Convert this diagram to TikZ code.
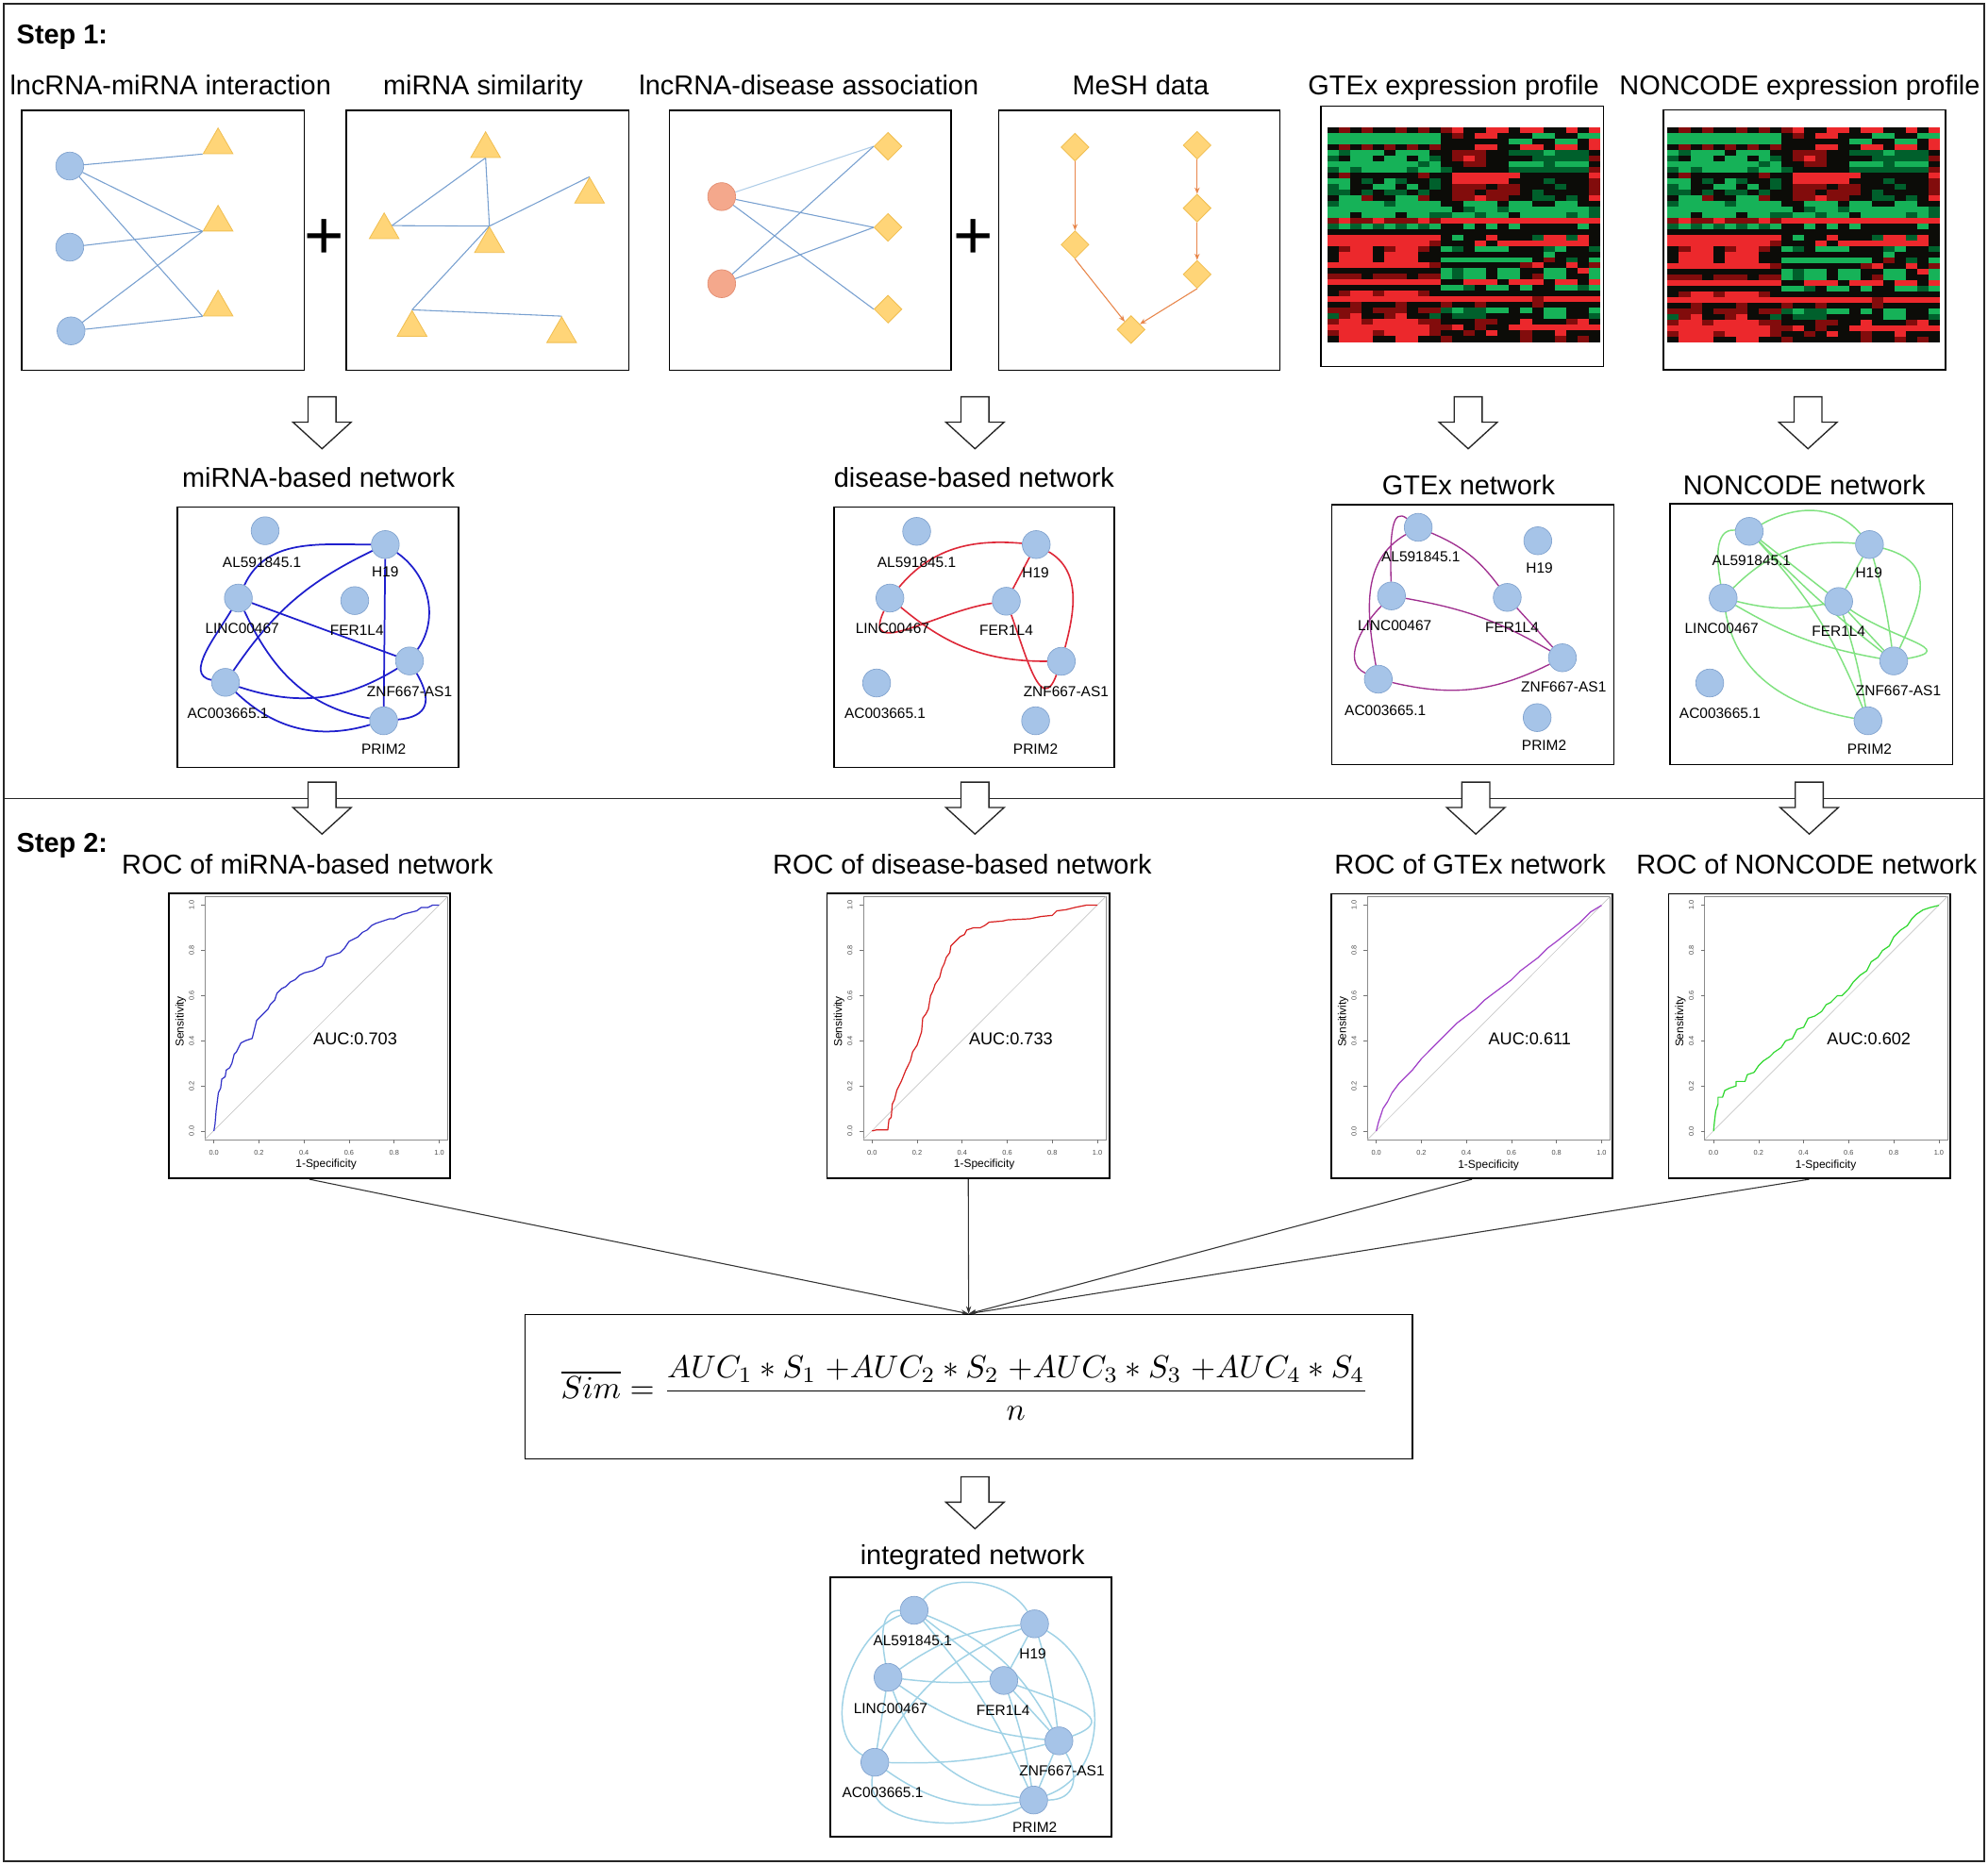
\documentclass[tikz,border=0pt]{standalone}
\usepackage[no-math]{fontspec}
\setmainfont{Liberation Sans}
\usetikzlibrary{shapes.geometric,arrows.meta}
\pgfdeclarelayer{bg}
\pgfsetlayers{bg,main}
\definecolor{nodefill}{RGB}{166,196,232}
\definecolor{nodeline}{RGB}{128,162,206}
\definecolor{trifill}{RGB}{255,213,120}
\definecolor{triline}{RGB}{240,190,80}
\definecolor{salmon}{RGB}{244,168,140}
\definecolor{salmonline}{RGB}{226,140,112}
\definecolor{edgeblue}{RGB}{120,160,208}
\definecolor{edgelight}{RGB}{176,206,232}
\definecolor{meshorange}{RGB}{232,134,74}
\definecolor{netblue}{RGB}{30,30,205}
\definecolor{netred}{RGB}{222,40,56}
\definecolor{netpurple}{RGB}{160,48,144}
\definecolor{netgreen}{RGB}{128,226,128}
\definecolor{netcyan}{RGB}{160,210,230}
\definecolor{rocblue}{RGB}{50,50,200}
\definecolor{rocred}{RGB}{216,32,32}
\definecolor{rocpurple}{RGB}{160,64,200}
\definecolor{rocgreen}{RGB}{48,216,48}
\definecolor{hmK}{RGB}{12,12,8}
\definecolor{hmr}{RGB}{130,12,12}
\definecolor{hmR}{RGB}{236,40,44}
\definecolor{hmg}{RGB}{0,96,44}
\definecolor{hmG}{RGB}{22,178,88}
\newcommand\ttlfont{\fontsize{21.5}{25}\selectfont}
\newcommand\stepfont{\fontsize{21.5}{25}\selectfont\bfseries}
\newcommand\lblfont{\fontsize{11.5}{13}\selectfont}
\newcommand\aucfont{\fontsize{13.5}{15}\selectfont}
\newcommand\axfont{\fontsize{8.9}{10}\selectfont}
\newcommand\tickfont{\fontsize{5.5}{6}\selectfont}
\newcommand\plusfont{\fontsize{54}{60}\selectfont}
\def\hmrows{%
{K,r,K,r,K,K,r,K,r,K,r,R,K,K,R,R,K,R,R,K,K,R,K,R},%
{G,G,G,G,G,G,G,G,G,G,K,r,K,R,R,K,K,K,G,G,K,K,G,G},%
{G,G,G,G,G,G,G,G,G,G,K,K,K,K,K,K,G,G,K,K,G,G,K,R},%
{K,r,K,r,K,r,K,r,K,r,K,K,K,R,R,K,K,R,R,K,R,R,K,R},%
{G,g,G,G,G,K,G,G,G,K,K,r,r,r,K,K,g,g,g,G,g,g,g,K},%
{g,K,G,G,K,G,G,K,G,g,K,r,R,r,K,K,K,K,g,g,g,g,g,r},%
{G,G,G,G,G,G,G,G,g,G,K,K,r,r,K,K,G,G,G,g,G,G,G,K},%
{g,G,g,G,G,G,G,g,G,G,g,K,K,K,K,K,g,g,g,g,g,g,g,r},%
{K,r,K,K,K,K,K,K,r,K,K,R,R,R,R,R,R,K,K,K,K,K,K,R},%
{G,G,K,g,K,G,g,K,K,g,K,R,R,R,R,R,K,K,K,g,K,K,K,r},%
{g,G,K,K,G,G,K,G,K,g,K,r,r,r,K,r,r,K,K,K,g,K,K,r},%
{g,g,K,g,K,g,g,K,g,K,K,r,r,K,r,r,r,K,g,K,K,K,K,r},%
{K,G,G,r,K,K,G,G,r,K,K,r,r,R,r,r,K,K,g,g,K,g,K,R},%
{g,G,G,G,G,g,G,G,G,G,K,K,G,G,G,K,G,G,K,K,G,G,K,K},%
{G,G,G,G,G,G,G,G,G,G,G,K,g,G,G,g,G,G,G,G,G,G,G,g},%
{G,G,K,G,G,G,K,G,G,g,g,G,G,g,G,G,K,G,G,G,G,g,G,g},%
{r,R,r,r,R,r,r,r,R,r,R,R,R,R,R,R,R,R,R,R,R,R,R,R},%
{g,G,g,G,g,G,g,G,g,G,K,K,G,K,G,K,G,K,K,K,K,K,G,K},%
{K,K,K,K,K,K,K,K,K,K,K,K,K,K,K,K,K,K,K,K,K,K,K,K},%
{R,R,R,R,R,R,R,R,R,R,K,G,K,K,R,K,K,K,g,R,R,g,R,K},%
{R,R,R,R,R,R,R,R,R,r,K,K,K,R,K,R,R,R,R,R,R,R,R,K},%
{K,r,R,R,K,r,R,R,r,K,G,g,K,G,G,G,K,K,K,g,G,K,K,g},%
{K,R,R,R,K,R,R,R,K,K,K,K,K,K,K,K,K,K,K,G,K,K,K,K},%
{K,R,R,R,K,R,R,R,K,K,G,G,G,G,G,G,G,G,K,r,K,g,K,G},%
{R,R,R,R,R,R,R,R,R,r,K,K,K,K,K,K,K,r,R,K,K,R,K,r},%
{K,K,K,K,K,K,K,K,K,K,G,g,G,G,K,G,G,K,K,G,G,K,R,G},%
{r,r,r,K,r,r,r,K,r,r,G,g,G,G,K,G,G,K,r,G,G,K,K,G},%
{R,R,R,R,R,R,R,R,R,R,K,K,R,R,R,K,R,R,R,K,R,R,K,R},%
{K,K,K,K,K,K,K,K,K,K,G,G,g,K,G,G,K,G,K,K,G,G,g,G},%
{K,r,R,R,r,R,R,R,r,K,K,K,K,K,K,K,K,K,K,K,K,K,K,K},%
{R,R,R,R,R,R,R,R,R,R,R,R,R,R,R,R,R,R,r,R,R,R,R,R},%
{K,K,r,K,K,K,r,K,K,K,r,K,K,r,K,K,K,K,r,K,K,K,K,K},%
{r,r,r,K,r,r,r,K,r,r,g,G,g,g,G,G,K,G,K,G,G,K,K,G},%
{g,r,R,K,K,r,R,K,K,g,K,g,g,g,K,K,K,K,K,G,G,K,K,g},%
{r,R,R,r,R,R,R,R,r,r,K,K,K,r,r,K,K,R,K,K,K,r,R,K},%
{R,R,R,R,R,R,R,R,R,r,r,R,K,r,K,K,R,R,R,R,R,R,R,R},%
{r,R,R,R,r,R,R,R,R,r,K,K,r,K,R,K,K,r,K,K,R,K,K,K},%
{K,R,R,R,K,K,R,R,K,K,r,K,K,K,K,K,K,r,K,K,r,K,r,K}%
}
\newcommand\framenode[5]{\node[framebox, minimum width={#4-#2}, minimum height={#5-#3}] (#1) at ({(#2+#4)/2},{(#3+#5)/2}) {};}
\newcommand\heatmap[4]{%
  \fill[hmK] (#1,#2) rectangle ++(#3,#4);
  \foreach \rowdata [count=\i from 0] in \hmrows {
    \foreach \c [count=\j from 0] in \rowdata {
      \fill[fill=hm\c] ({#1+\j*#3/24},{#2+\i*#4/38}) rectangle ++({#3/24+0.25},{#4/38+0.25});
    }
  }
}
\newcommand\rocplot[9]{%
  \framenode{#1}{#2}{#3}{#4}{#5}
  \begin{scope}[shift={(#2,#3)}]
    \draw[black!45, line width=0.5pt] (28.5,2.2) rectangle (220,194);
    \foreach \v/\t in {0/0.0,0.2/0.2,0.4/0.4,0.6/0.6,0.8/0.8,1/1.0} {
      \draw[black!55, line width=0.4pt] ({35.5+177.7*\v},194) -- ++(0,3);
      \node[font=\tickfont, text=black!70, inner sep=0] at ({35.5+177.7*\v},204.5) {\t};
      \draw[black!55, line width=0.4pt] (28.5,{187.3-178.1*\v}) -- ++(-3,0);
      \node[font=\tickfont, text=black!70, inner sep=0, rotate=90] at (18,{187.3-178.1*\v}) {\t};
    }
    \node[font=\axfont, inner sep=0] (#1-xl) at (124,214) {1-Specificity};
    \node[font=\axfont, inner sep=0, rotate=90] (#1-yl) at (9.4,101) {Sensitivity};
    \draw[black!22, line width=0.5pt] (28.5,194) -- (220,2.2);
    \node[font=\aucfont, inner sep=0] (#1-auc) at (#6,114.8) {#7};
    \begin{scope}[shift={(35.5,187.3)}, x={(177.7pt,0pt)}, y={(0pt,178.1pt)}]
      \draw[#8, line width=0.9pt, line join=round] plot coordinates {#9};
    \end{scope}
  \end{scope}
}
\begin{document}
\begin{tikzpicture}[x=1pt,y=-1pt,
  framebox/.style={draw=black, line width=1.2pt, inner sep=0},
  title/.style={font=\ttlfont, anchor=base, inner sep=0},
  steplabel/.style={font=\stepfont, anchor=base west, inner sep=0},
  netnode/.style={circle, fill=nodefill, draw=nodeline, line width=0.5pt, minimum size=22pt, inner sep=0},
  netlabel/.style={font=\lblfont, inner sep=0},
  tri/.style={regular polygon, regular polygon sides=3, minimum size=27pt, inner sep=0, fill=trifill, draw=triline, line width=0.6pt},
  dia/.style={diamond, aspect=1, minimum size=22pt, inner sep=0, fill=trifill, draw=triline, line width=0.6pt},
  lnc/.style={circle, minimum size=22pt, inner sep=0, fill=nodefill, draw=nodeline, line width=0.5pt},
  dis/.style={lnc, fill=salmon, draw=salmonline},
  simedge/.style={draw=edgeblue, line width=0.8pt},
  meshedge/.style={draw=meshorange, line width=0.8pt, -{Stealth[length=5pt,width=4pt]}},
  mirnaedge/.style={draw=netblue, line width=1.3pt},
  disedge/.style={draw=netred, line width=1.2pt},
  gtexedge/.style={draw=netpurple, line width=1pt},
  ncedge/.style={draw=netgreen, line width=1.1pt},
  intedge/.style={draw=netcyan, line width=1.1pt},
  feed/.style={draw=black!80, line width=0.8pt, -{Stealth[length=6pt,width=4pt]}},
  plussign/.style={font=\plusfont, inner sep=0},
  hollow/.pic={\draw[black!85, line width=1pt, fill=white] (-11,0) -- (11,0) -- (11,20) -- (23,20) -- (0,41) -- (-23,20) -- (-11,20) -- cycle;}
]
\useasboundingbox (0,0) rectangle (1568,1471);
\begin{pgfonlayer}{bg}
\fill[white] (0,0) rectangle (1568,1471);
\end{pgfonlayer}
\draw[black!85, line width=1.3pt] (3,3) rectangle (1565,1468);
\draw[black!85, line width=1.3pt] (3,630) -- (1565,630);

% ---------- Step 1 ----------
\node[steplabel] (step1) at (13,34.5) {Step 1:};
\node[title] (t1) at (134.5,74.5) {lncRNA-miRNA interaction};
\node[title] (t2) at (381,74.5) {miRNA similarity};
\node[title] (t3) at (638,74.5) {lncRNA-disease association};
\node[title] (t4) at (899.6,74.5) {MeSH data};
\node[title] (t5) at (1146.5,74.5) {GTEx expression profile};
\node[title] (t6) at (1419.5,74.5) {NONCODE expression profile};

\framenode{b1}{17}{87}{240}{292}
\framenode{b2}{273}{87}{496}{292}
\framenode{b3}{528}{87}{750}{292}
\framenode{b4}{787.6}{87}{1009.4}{292}
\framenode{b5}{1041.7}{83.6}{1264.7}{289.1}
\framenode{b6}{1311.9}{86.8}{1534.5}{291.5}
\node[plussign] (plus1) at (256,189) {+};
\node[plussign] (plus2) at (767.5,189) {+};

% box 1: lncRNA-miRNA interaction
\node[lnc] (c1) at (55,131) {};
\node[lnc] (c2) at (55,195) {};
\node[lnc] (c3) at (56,261) {};
\node[tri] (ta1) at (172,114.5) {};
\node[tri] (ta2) at (172,175.5) {};
\node[tri] (ta3) at (172,242.5) {};
\begin{pgfonlayer}{bg}
\draw[simedge] (c1) -- (ta1.corner 2);
\draw[simedge] (c1) -- (ta2.corner 2);
\draw[simedge] (c1) -- (ta3.corner 2);
\draw[simedge] (c2) -- (ta2.corner 2);
\draw[simedge] (c3) -- (ta2.corner 2);
\draw[simedge] (c3) -- (ta3.corner 2);
\end{pgfonlayer}

% box 2: miRNA similarity
\node[tri] (sa) at (383,117.5) {};
\node[tri] (sb) at (465,153.5) {};
\node[tri] (sc) at (303,181.5) {};
\node[tri] (sd) at (386,192.5) {};
\node[tri] (se) at (325,258.5) {};
\node[tri] (sf) at (443,263.5) {};
\begin{pgfonlayer}{bg}
\draw[simedge] (sa.side 2) -- (sc.side 3);
\draw[simedge] (sa.side 2) -- (sd.corner 1);
\draw[simedge] (sc.side 3) -- (sd.corner 1);
\draw[simedge] (sd.corner 1) -- (sb.corner 1);
\draw[simedge] (sd.corner 1) -- (se.corner 1);
\draw[simedge] (se.corner 1) -- (sf.corner 1);
\end{pgfonlayer}

% box 3: lncRNA-disease association
\node[dis] (e1) at (569.2,155.1) {};
\node[dis] (e2) at (569.2,223.8) {};
\node[dia] (d1) at (700.4,115.4) {};
\node[dia] (d2) at (700.4,179.4) {};
\node[dia] (d3) at (700.4,243.9) {};
\begin{pgfonlayer}{bg}
\draw[simedge, draw=edgelight] (e1) -- (d1.west);
\draw[simedge] (e1) -- (d2.west);
\draw[simedge] (e1) -- (d3.west);
\draw[simedge] (e2) -- (d1.west);
\draw[simedge] (e2) -- (d2.west);
\end{pgfonlayer}

% box 4: MeSH data
\node[dia] (m1) at (847.9,116.1) {};
\node[dia] (m2) at (944.2,114.6) {};
\node[dia] (m3) at (944.2,164.2) {};
\node[dia] (m4) at (847.9,193.0) {};
\node[dia] (m5) at (944.2,216.4) {};
\node[dia] (m6) at (892.1,260.0) {};
\draw[meshedge] (m1) -- (m4);
\draw[meshedge] (m2) -- (m3);
\draw[meshedge] (m3) -- (m5);
\draw[meshedge] (m4.south) -- (m6);
\draw[meshedge] (m5.south) -- (m6);

% heatmaps
\heatmap{1047.3}{100.2}{214.5}{169.5}
\heatmap{1315.3}{100.2}{214.8}{169.8}

% hollow arrows row A
\pic at (254,313) {hollow};
\pic at (769,313) {hollow};
\pic at (1158,313) {hollow};
\pic at (1426,313) {hollow};

% network titles
\node[title] (nt1) at (251.2,384.5) {miRNA-based network};
\node[title] (nt2) at (768.3,384.5) {disease-based network};
\node[title] (nt3) at (1158.3,390) {GTEx network};
\node[title] (nt4) at (1423,390) {NONCODE network};

\framenode{n1}{140.1}{400.1}{361.7}{605.3}
\framenode{n2}{658}{400}{878.8}{605.3}
\framenode{n3}{1050.4}{398.1}{1273}{603.3}
\framenode{n4}{1317}{397.6}{1540}{603.3}

% miRNA-based network
\node[netnode] (mal) at (209.1,418.7) {};
\node[netnode] (mh) at (303.9,429.6) {};
\node[netnode] (mli) at (188,471.8) {};
\node[netnode] (mfe) at (279.8,473.8) {};
\node[netnode] (mzn) at (323,521.4) {};
\node[netnode] (mac) at (177.8,538.3) {};
\node[netnode] (mpr) at (302.6,568.6) {};
\node[netlabel] (mal-t) at (206.6,443.5) {AL591845.1};
\node[netlabel] (mh-t) at (303.9,451.4) {H19};
\node[netlabel] (mli-t) at (191,496.1) {LINC00467};
\node[netlabel] (mfe-t) at (281.5,497.4) {FER1L4};
\node[netlabel] (mzn-t) at (323,545.7) {ZNF667-AS1};
\node[netlabel] (mac-t) at (179.8,563.1) {AC003665.1};
\node[netlabel] (mpr-t) at (302.6,590.9) {PRIM2};
\begin{pgfonlayer}{bg}
\draw[mirnaedge] (mli) to[out=65,in=180] (mh);
\draw[mirnaedge] (mli) -- (mzn);
\draw[mirnaedge] (mli) to[out=-65,in=170] (mpr);
\draw[mirnaedge] (mli) to[out=-120,in=170] (mac);
\draw[mirnaedge] (mac) to[bend left=15] (mh);
\draw[mirnaedge] (mac) to[bend right=25] (mzn);
\draw[mirnaedge] (mac) to[bend right=30] (mpr);
\draw[mirnaedge] (mh) -- (mpr);
\draw[mirnaedge] (mh) to[out=-35,in=55] (mzn);
\draw[mirnaedge] (mzn) to[out=-60,in=5,looseness=1.6] (mpr);
\end{pgfonlayer}

% disease-based network
\node[netnode] (dal) at (723,419.2) {};
\node[netnode] (dh) at (817.3,429.6) {};
\node[netnode] (dli) at (701.9,471.8) {};
\node[netnode] (dfe) at (793.7,474.3) {};
\node[netnode] (dzn) at (837.1,521.7) {};
\node[netnode] (dac) at (691.4,538.8) {};
\node[netnode] (dpr) at (816.8,568.6) {};
\node[netlabel] (dal-t) at (723,443.5) {AL591845.1};
\node[netlabel] (dh-t) at (816.8,452) {H19};
\node[netlabel] (dli-t) at (703.9,496.1) {LINC00467};
\node[netlabel] (dfe-t) at (793.7,497.4) {FER1L4};
\node[netlabel] (dzn-t) at (840.8,545.7) {ZNF667-AS1};
\node[netlabel] (dac-t) at (698.1,563.1) {AC003665.1};
\node[netlabel] (dpr-t) at (816.8,590.9) {PRIM2};
\begin{pgfonlayer}{bg}
\draw[disedge] (dli) to[out=50,in=175] (dh);
\draw[disedge] (dli) to[out=-115,in=188,looseness=1.3] (dfe);
\draw[disedge] (dli) to[out=-40,in=180] (dzn);
\draw[disedge] (dfe) -- (dh);
\draw[disedge] (dh) to[out=-30,in=75] (dzn);
\draw[disedge] (dfe) to[out=-70,in=-110,looseness=1.5] (dzn);
\end{pgfonlayer}

% GTEx network
\node[netnode] (gal) at (1118.6,416) {};
\node[netnode] (gh) at (1212.9,426.6) {};
\node[netnode] (gli) at (1097.5,470.1) {};
\node[netnode] (gfe) at (1188.8,471.3) {};
\node[netnode] (gzn) at (1232.3,518.9) {};
\node[netnode] (gac) at (1087.1,535.8) {};
\node[netnode] (gpr) at (1212.4,566.1) {};
\node[netlabel] (gal-t) at (1120.6,439.5) {AL591845.1};
\node[netlabel] (gh-t) at (1214.2,448.5) {H19};
\node[netlabel] (gli-t) at (1100,493.6) {LINC00467};
\node[netlabel] (gfe-t) at (1192.6,494.9) {FER1L4};
\node[netlabel] (gzn-t) at (1233.3,542) {ZNF667-AS1};
\node[netlabel] (gac-t) at (1092.6,560.6) {AC003665.1};
\node[netlabel] (gpr-t) at (1217.9,587.9) {PRIM2};
\begin{pgfonlayer}{bg}
\draw[gtexedge] (gal) to[bend left=15] (gfe);
\draw[gtexedge] (gal) .. controls (1098,400) and (1096,420) .. (gli);
\draw[gtexedge] (gal) to[out=-150,in=100] (gac);
\draw[gtexedge] (gli) to[out=-135,in=155] (gac);
\draw[gtexedge] (gli) to[bend left=10] (gzn);
\draw[gtexedge] (gfe) -- (gzn);
\draw[gtexedge] (gac) to[bend right=20] (gzn);
\end{pgfonlayer}

% NONCODE network
\node[netnode] (nal) at (1379.7,419.2) {};
\node[netnode] (nh) at (1474.5,429.6) {};
\node[netnode] (nli) at (1359.1,471.8) {};
\node[netnode] (nfe) at (1450.2,474.5) {};
\node[netnode] (nzn) at (1493.6,521.4) {};
\node[netnode] (nac) at (1348.5,538.8) {};
\node[netnode] (npr) at (1473.3,568.6) {};
\node[netlabel] (nal-t) at (1381.5,442) {AL591845.1};
\node[netlabel] (nh-t) at (1474,452) {H19};
\node[netlabel] (nli-t) at (1357.9,495.6) {LINC00467};
\node[netlabel] (nfe-t) at (1450.2,497.9) {FER1L4};
\node[netlabel] (nzn-t) at (1497.3,545) {ZNF667-AS1};
\node[netlabel] (nac-t) at (1356.6,563.1) {AC003665.1};
\node[netlabel] (npr-t) at (1474.5,590.9) {PRIM2};
\begin{pgfonlayer}{bg}
\draw[ncedge] (nal) to[out=30,in=130] (nh);
\draw[ncedge] (nal) to[out=175,in=100] (nli);
\draw[ncedge] (nal) -- (nfe);
\draw[ncedge] (nal) to[bend right=4] (nzn);
\draw[ncedge] (nal) to[bend left=10] (npr);
\draw[ncedge] (nh) to[bend right=25] (nli);
\draw[ncedge] (nh) -- (nfe);
\draw[ncedge] (nh) to[bend left=4] (nzn);
\draw[ncedge] (nh) to[out=-15,in=65,looseness=1.4] (nzn);
\draw[ncedge] (nli) to[bend right=12] (nfe);
\draw[ncedge] (nli) to[bend right=10] (nzn);
\draw[ncedge] (nli) to[out=-80,in=170] (npr);
\draw[ncedge] (nfe) -- (nzn);
\draw[ncedge] (nfe) to[bend left=4] (npr);
\draw[ncedge] (nfe) to[out=-35,in=10,looseness=1.8] (nzn);
\end{pgfonlayer}

% hollow arrows row B
\pic at (254,617) {hollow};
\pic at (769,617) {hollow};
\pic at (1164,617) {hollow};
\pic at (1427,617) {hollow};

% ---------- Step 2 ----------
\node[steplabel] (step2) at (13,672.5) {Step 2:};
\node[title] (rt1) at (242.5,689.5) {ROC of miRNA-based network};
\node[title] (rt2) at (759,689.5) {ROC of disease-based network};
\node[title] (rt3) at (1159.5,689.5) {ROC of GTEx network};
\node[title] (rt4) at (1425,689.5) {ROC of NONCODE network};

\rocplot{roc1}{133.2}{704.9}{354.8}{929.7}{147}{AUC:0.703}{rocblue}{(0,0) (0.005,0.03) (0.01,0.09) (0.015,0.13) (0.02,0.17) (0.03,0.19) (0.035,0.23) (0.05,0.24) (0.055,0.27) (0.07,0.28) (0.08,0.30) (0.09,0.34) (0.1,0.35) (0.11,0.37) (0.12,0.39) (0.14,0.40) (0.17,0.41) (0.18,0.45) (0.19,0.49) (0.21,0.51) (0.22,0.52) (0.24,0.54) (0.25,0.56) (0.27,0.58) (0.28,0.61) (0.3,0.63) (0.32,0.64) (0.34,0.66) (0.36,0.67) (0.38,0.69) (0.4,0.70) (0.44,0.71) (0.46,0.72) (0.48,0.73) (0.49,0.745) (0.5,0.77) (0.53,0.78) (0.56,0.79) (0.58,0.81) (0.6,0.84) (0.62,0.85) (0.64,0.86) (0.66,0.88) (0.68,0.89) (0.7,0.91) (0.72,0.92) (0.75,0.93) (0.78,0.94) (0.8,0.94) (0.84,0.96) (0.88,0.97) (0.9,0.975) (0.92,0.99) (0.95,0.99) (0.97,1.0) (1,1)}
\rocplot{roc2}{652.3}{704.9}{875.1}{929.7}{145}{AUC:0.733}{rocred}{(0,0) (0.02,0.005) (0.07,0.005) (0.075,0.05) (0.085,0.06) (0.09,0.12) (0.1,0.14) (0.11,0.18) (0.12,0.2) (0.13,0.22) (0.15,0.27) (0.17,0.31) (0.18,0.35) (0.2,0.38) (0.21,0.41) (0.22,0.44) (0.225,0.5) (0.24,0.52) (0.25,0.54) (0.26,0.6) (0.27,0.62) (0.28,0.65) (0.3,0.68) (0.31,0.72) (0.32,0.74) (0.33,0.77) (0.345,0.79) (0.35,0.82) (0.37,0.84) (0.39,0.86) (0.41,0.87) (0.42,0.89) (0.45,0.9) (0.48,0.9) (0.5,0.91) (0.52,0.925) (0.58,0.93) (0.6,0.935) (0.7,0.94) (0.75,0.95) (0.8,0.955) (0.82,0.975) (0.86,0.98) (0.9,0.99) (0.95,1.0) (1,1)}
\rocplot{roc3}{1050}{705}{1272}{929.7}{156.5}{AUC:0.611}{rocpurple}{(0,0) (0.01,0.04) (0.02,0.07) (0.03,0.1) (0.05,0.13) (0.07,0.17) (0.1,0.21) (0.13,0.24) (0.16,0.27) (0.2,0.32) (0.23,0.35) (0.26,0.38) (0.3,0.42) (0.33,0.45) (0.36,0.48) (0.4,0.51) (0.44,0.54) (0.48,0.58) (0.52,0.61) (0.56,0.64) (0.6,0.67) (0.64,0.71) (0.68,0.74) (0.72,0.77) (0.76,0.81) (0.8,0.84) (0.85,0.88) (0.9,0.92) (0.95,0.97) (1,1)}
\rocplot{roc4}{1316}{705}{1538}{929.7}{158}{AUC:0.602}{rocgreen}{(0,0) (0.005,0.05) (0.01,0.09) (0.02,0.12) (0.02,0.15) (0.04,0.15) (0.05,0.18) (0.07,0.19) (0.1,0.2) (0.1,0.22) (0.14,0.22) (0.15,0.25) (0.18,0.26) (0.2,0.29) (0.22,0.31) (0.25,0.33) (0.27,0.35) (0.3,0.37) (0.32,0.4) (0.35,0.41) (0.37,0.45) (0.4,0.46) (0.42,0.5) (0.45,0.51) (0.48,0.53) (0.5,0.56) (0.52,0.57) (0.55,0.6) (0.57,0.6) (0.6,0.63) (0.62,0.66) (0.65,0.69) (0.68,0.71) (0.7,0.75) (0.73,0.77) (0.75,0.8) (0.78,0.82) (0.8,0.86) (0.83,0.89) (0.86,0.91) (0.88,0.94) (0.9,0.96) (0.93,0.98) (0.96,0.99) (1,1)}

% formula
\framenode{formula}{414}{1037}{1114}{1151}
\node[inner sep=0, scale=2.5] (formtext) at (761,1095) {$\displaystyle \overline{Sim}=\frac{AUC_1*S_1\ {+}AUC_2*S_2\ {+}AUC_3*S_3\ {+}AUC_4*S_4}{n}$};
\draw[feed] (roc1.south) -- (formula.north);
\draw[feed] (roc2.south) -- (formula.north);
\draw[feed] (roc3.south) -- (formula.north);
\draw[feed] (roc4.south) -- (formula.north);

\pic at (769,1165) {hollow};
\node[title] (it) at (767,1234) {integrated network};
\framenode{n5}{654.8}{1244.3}{876.6}{1449}

% integrated network
\node[netnode] (ial) at (721,1270.3) {};
\node[netnode] (ih) at (816,1281) {};
\node[netnode] (ili) at (700.4,1323.2) {};
\node[netnode] (ife) at (791.7,1325.7) {};
\node[netnode] (izn) at (835.2,1373.3) {};
\node[netnode] (iac) at (690,1390.2) {};
\node[netnode] (ipr) at (815.3,1420) {};
\node[netlabel] (ial-t) at (719.8,1294.1) {AL591845.1};
\node[netlabel] (ih-t) at (814.6,1304.6) {H19};
\node[netlabel] (ili-t) at (702.4,1347.5) {LINC00467};
\node[netlabel] (ife-t) at (791.2,1349.7) {FER1L4};
\node[netlabel] (izn-t) at (837.6,1396.9) {ZNF667-AS1};
\node[netlabel] (iac-t) at (696.2,1414.2) {AC003665.1};
\node[netlabel] (ipr-t) at (816.1,1441.8) {PRIM2};
\begin{pgfonlayer}{bg}
\draw[intedge] (ial) to[out=50,in=120,looseness=0.9] (ih);
\draw[intedge] (ial) to[bend left=20] (izn);
\draw[intedge] (ial) to[out=180,in=100] (ili);
\draw[intedge] (ial) to[out=200,in=150,looseness=0.9] (iac);
\draw[intedge] (ial) -- (ife);
\draw[intedge] (ial) to[bend left=8] (ipr);
\draw[intedge] (ih) to[bend right=15] (ili);
\draw[intedge] (ih) -- (ife);
\draw[intedge] (ih) to[bend left=5] (izn);
\draw[intedge] (ih) to[out=-30,in=20,looseness=1.1] (ipr);
\draw[intedge] (ih) to[bend right=20] (iac);
\draw[intedge] (ili) to[bend right=5] (ife);
\draw[intedge] (ili) to[bend right=15] (izn);
\draw[intedge] (ili) to[out=-70,in=170] (ipr);
\draw[intedge] (ili) -- (iac);
\draw[intedge] (ife) -- (izn);
\draw[intedge] (ife) to[out=-20,in=20,looseness=1.8] (izn);
\draw[intedge] (ife) to[bend left=5] (ipr);
\draw[intedge] (izn) -- (ipr);
\draw[intedge] (izn) to[out=-60,in=0,looseness=1.4] (ipr);
\draw[intedge] (iac) to[bend right=8] (izn);
\draw[intedge] (iac) to[bend right=22] (ipr);
\draw[intedge] (iac) to[out=-100,in=-150,looseness=0.9] (ipr);
\end{pgfonlayer}
\end{tikzpicture}
\end{document}
